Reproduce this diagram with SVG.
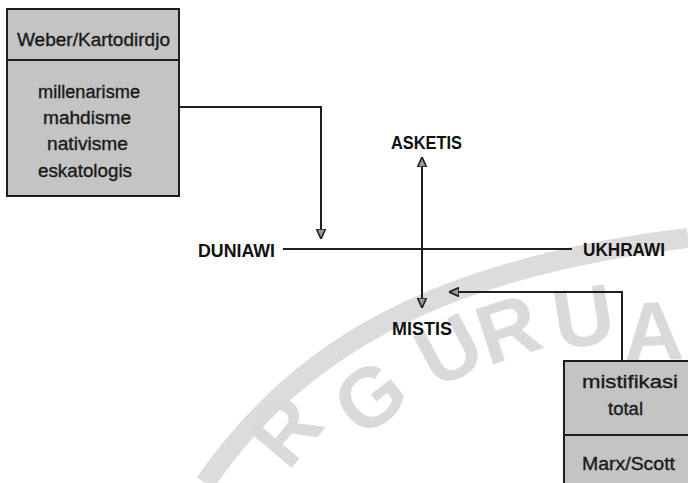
<svg xmlns="http://www.w3.org/2000/svg" width="688" height="483" viewBox="0 0 688 483">
<style>
.box{fill:#c4c4c4;stroke:#1e1e1e;stroke-width:2}
.div{stroke:#1e1e1e;stroke-width:2}
.bt{font-family:"Liberation Sans",Arial,sans-serif;font-size:18px;fill:#1a1a1a;stroke:#1a1a1a;stroke-width:0.35}
.lb{font-family:"Liberation Sans",Arial,sans-serif;font-size:19px;font-weight:bold;fill:#111}
.ln{stroke:#1e1e1e;stroke-width:2;fill:none}
.wm{font-family:"Liberation Sans",Arial,sans-serif;font-size:84px;font-weight:bold;fill:#dadada}
</style>
<defs>
<marker id="ah" viewBox="0 0 10 10" refX="10" refY="5" markerWidth="10" markerHeight="10" markerUnits="userSpaceOnUse" orient="auto-start-reverse">
<path d="M0,0.5 L10,5 L0,9.5 z" fill="#999" stroke="#1e1e1e" stroke-width="1.6"/>
</marker>
</defs>
<rect width="688" height="483" fill="#ffffff"/>
<g id="watermark">
<path d="M205,483 C290,360 420,270 688,238" fill="none" stroke="#dcdcdc" stroke-width="20"/>
<text class="wm" transform="translate(288,472) rotate(-50)">R</text>
<text class="wm" transform="translate(362,440) rotate(-38)">G</text>
<text class="wm" transform="translate(436,390) rotate(-28)">U</text>
<text class="wm" transform="translate(488,366) rotate(-18)">R</text>
<text class="wm" transform="translate(558,350) rotate(-9)">U</text>
<text class="wm" transform="translate(624,362) rotate(-3)">A</text>
</g>
<g id="connectors">
<path class="ln" d="M179,107 H321 V239" marker-end="url(#ah)"/>
<path class="ln" d="M283,249 H572"/>
<path class="ln" d="M422,157 V308" marker-start="url(#ah)" marker-end="url(#ah)"/>
<path class="ln" d="M622,361 V292 H449" marker-end="url(#ah)"/>
</g>
<g id="weber">
<rect class="box" x="7" y="9" width="172" height="187"/>
<line class="div" x1="7" y1="60" x2="179" y2="60"/>
<text class="bt" x="17" y="46" textLength="153" lengthAdjust="spacingAndGlyphs">Weber/Kartodirdjo</text>
<text class="bt" x="38" y="98" textLength="102" lengthAdjust="spacingAndGlyphs">millenarisme</text>
<text class="bt" x="43" y="124" textLength="88" lengthAdjust="spacingAndGlyphs">mahdisme</text>
<text class="bt" x="47" y="150" textLength="81" lengthAdjust="spacingAndGlyphs">nativisme</text>
<text class="bt" x="38" y="177" textLength="94" lengthAdjust="spacingAndGlyphs">eskatologis</text>
</g>
<g id="marx">
<rect class="box" x="564" y="361" width="140" height="140"/>
<line class="div" x1="564" y1="435" x2="688" y2="435"/>
<text class="bt" x="582" y="388" textLength="96" lengthAdjust="spacingAndGlyphs">mistifikasi</text>
<text class="bt" x="608" y="415" textLength="35" lengthAdjust="spacingAndGlyphs">total</text>
<text class="bt" x="582" y="470" textLength="93" lengthAdjust="spacingAndGlyphs">Marx/Scott</text>
</g>
<g id="duniawi"><text class="lb" x="198" y="257" textLength="77" lengthAdjust="spacingAndGlyphs">DUNIAWI</text></g>
<g id="ukhrawi"><text class="lb" x="583" y="256" textLength="82" lengthAdjust="spacingAndGlyphs">UKHRAWI</text></g>
<g id="asketis"><text class="lb" x="391" y="149" textLength="71" lengthAdjust="spacingAndGlyphs">ASKETIS</text></g>
<g id="mistis"><text class="lb" x="392" y="335" textLength="60" lengthAdjust="spacingAndGlyphs">MISTIS</text></g>
</svg>
